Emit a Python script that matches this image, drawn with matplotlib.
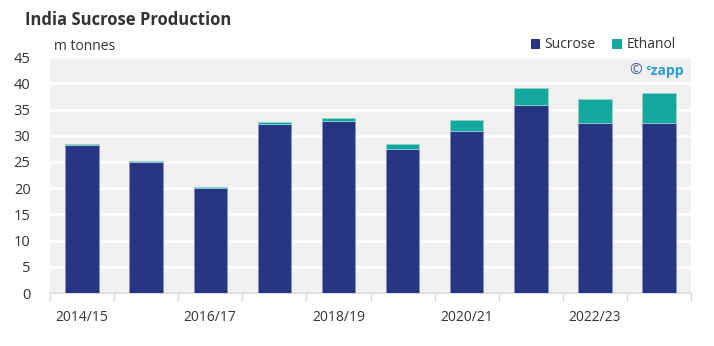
import matplotlib
matplotlib.use("Agg")
import matplotlib.pyplot as plt
import numpy as np
from matplotlib.patches import Patch

plt.rcParams['font.family'] = ['Open Sans', 'DejaVu Sans']

seasons = ["2014/15", "2015/16", "2016/17", "2017/18", "2018/19",
           "2019/20", "2020/21", "2021/22", "2022/23", "2023/24"]
sucrose = [28.2, 24.9, 20.1, 32.3, 32.9, 27.5, 31.0, 35.8, 32.5, 32.5]
ethanol = [0.3, 0.3, 0.2, 0.3, 0.5, 0.9, 2.0, 3.3, 4.6, 5.6]
y_ticks = [0, 5, 10, 15, 20, 25, 30, 35, 40, 45]

navy = "#283583"
teal = "#13a89e"
txt = "#333333"

fig = plt.figure(figsize=(7.14, 3.46), dpi=100)
ax = fig.add_axes([0.070, 0.153, 0.898, 0.682])
ax.set_facecolor("#f0f0f0")

x = np.arange(len(seasons))
ax.bar(x, sucrose, width=0.52, color=navy, edgecolor="#8a90c0", linewidth=0.6, zorder=3)
ax.bar(x, ethanol, bottom=sucrose, width=0.52, color=teal, edgecolor="#8fd3cd", linewidth=0.6, zorder=3)

ax.set_xlim(-0.5, len(seasons) - 0.5)
ax.set_ylim(0, 45)
ax.set_yticks(y_ticks)
ax.yaxis.grid(True, color="white", linewidth=1.8, zorder=1)
ax.set_axisbelow(True)

ax.set_xticks(x[::2])
ax.set_xticklabels(seasons[::2])
ax.set_xticks(np.arange(-0.5, len(seasons), 1.0), minor=True)
ax.tick_params(axis="x", which="major", length=0, pad=12, labelsize=10, labelcolor=txt)
ax.tick_params(axis="x", which="minor", length=6, color="#d9d9d9", width=1)
ax.tick_params(axis="y", length=0, pad=14, labelsize=10.5, labelcolor=txt)

for s in ["top", "right", "left"]:
    ax.spines[s].set_visible(False)
ax.spines["bottom"].set_color("#d9d9d9")
ax.spines["bottom"].set_linewidth(1.2)

fig.text(25 / 714, 1 - 20 / 346, "India Sucrose Production", fontsize=12,
         fontweight="bold", color=txt, va="center", ha="left")
fig.text(54 / 714, 1 - 47 / 346, "m tonnes", fontsize=10, color=txt, va="center", ha="left")

handles = [Patch(facecolor=navy, label="Sucrose"), Patch(facecolor=teal, label="Ethanol")]
fig.legend(handles=handles, loc="center right", bbox_to_anchor=(688 / 714, 1 - 45 / 346),
           ncol=2, frameon=False, fontsize=10, handlelength=0.7, handleheight=0.7,
           handletextpad=0.3, columnspacing=1.2, labelcolor=txt)

fig.text(684 / 714, 1 - 71 / 346, "ᶜzapp", fontsize=10, color="#2e9bd6",
         fontweight="bold", va="center", ha="right")
fig.text(642 / 714, 1 - 71 / 346, "©", fontsize=11, color="#4a56a0",
         va="center", ha="right")

fig.savefig("out.png", dpi=100)
